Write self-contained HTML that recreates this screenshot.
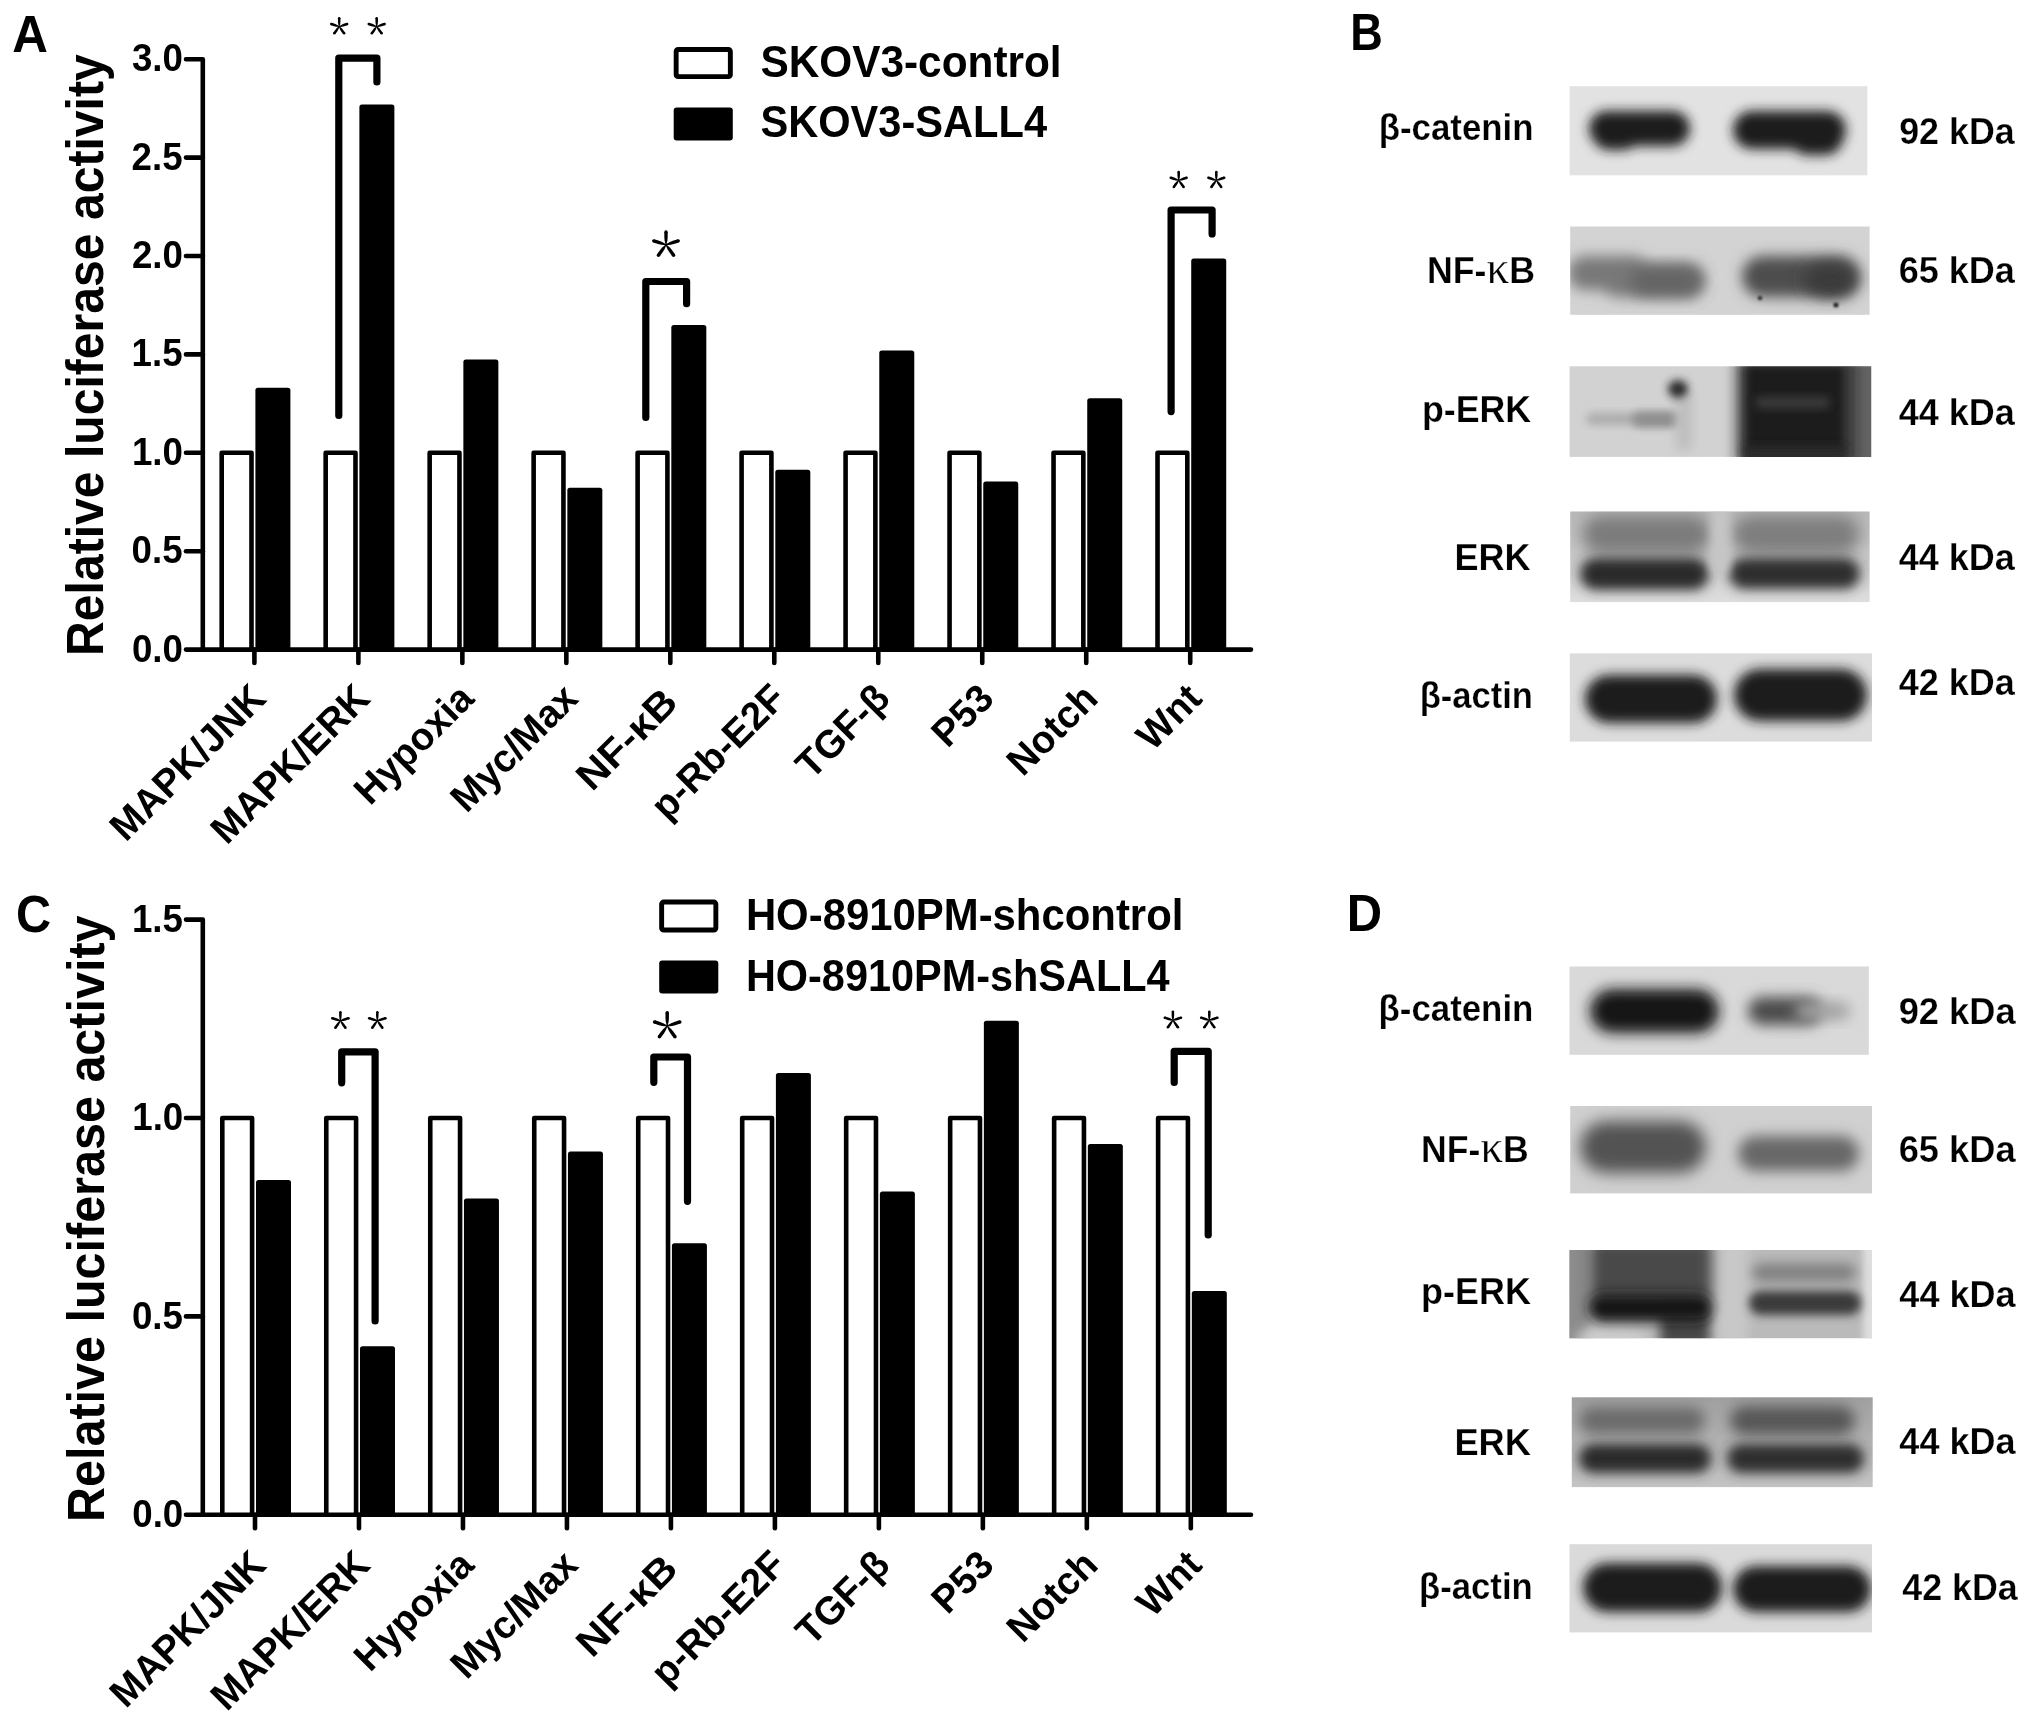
<!DOCTYPE html>
<html><head><meta charset="utf-8"><style>
html,body{margin:0;padding:0;background:#fff;}
body{width:2031px;height:1723px;position:relative;overflow:hidden;}
svg{filter:grayscale(1);}
</style></head><body>
<svg width="2031" height="1723" viewBox="0 0 2031 1723" style="position:absolute;left:0;top:0">
<defs><filter id="bl" x="-30%" y="-60%" width="160%" height="220%"><feGaussianBlur stdDeviation="5"/></filter><filter id="bl2" x="-30%" y="-60%" width="160%" height="220%"><feGaussianBlur stdDeviation="7"/></filter></defs>
<path d="M186,59.20 H202.80 V649.60 H1251" fill="none" stroke="#000" stroke-width="4.6" stroke-linejoin="round" stroke-linecap="round"/>
<line x1="186" y1="649.60" x2="202.80" y2="649.60" stroke="#000" stroke-width="4.6" stroke-linecap="round"/>
<line x1="186" y1="551.20" x2="202.80" y2="551.20" stroke="#000" stroke-width="4.6" stroke-linecap="round"/>
<line x1="186" y1="452.80" x2="202.80" y2="452.80" stroke="#000" stroke-width="4.6" stroke-linecap="round"/>
<line x1="186" y1="354.40" x2="202.80" y2="354.40" stroke="#000" stroke-width="4.6" stroke-linecap="round"/>
<line x1="186" y1="256.00" x2="202.80" y2="256.00" stroke="#000" stroke-width="4.6" stroke-linecap="round"/>
<line x1="186" y1="157.60" x2="202.80" y2="157.60" stroke="#000" stroke-width="4.6" stroke-linecap="round"/>
<line x1="254.40" y1="649.60" x2="254.40" y2="663.00" stroke="#000" stroke-width="4.6" stroke-linecap="round"/>
<line x1="358.38" y1="649.60" x2="358.38" y2="663.00" stroke="#000" stroke-width="4.6" stroke-linecap="round"/>
<line x1="462.36" y1="649.60" x2="462.36" y2="663.00" stroke="#000" stroke-width="4.6" stroke-linecap="round"/>
<line x1="566.34" y1="649.60" x2="566.34" y2="663.00" stroke="#000" stroke-width="4.6" stroke-linecap="round"/>
<line x1="670.32" y1="649.60" x2="670.32" y2="663.00" stroke="#000" stroke-width="4.6" stroke-linecap="round"/>
<line x1="774.30" y1="649.60" x2="774.30" y2="663.00" stroke="#000" stroke-width="4.6" stroke-linecap="round"/>
<line x1="878.28" y1="649.60" x2="878.28" y2="663.00" stroke="#000" stroke-width="4.6" stroke-linecap="round"/>
<line x1="982.26" y1="649.60" x2="982.26" y2="663.00" stroke="#000" stroke-width="4.6" stroke-linecap="round"/>
<line x1="1086.24" y1="649.60" x2="1086.24" y2="663.00" stroke="#000" stroke-width="4.6" stroke-linecap="round"/>
<line x1="1190.22" y1="649.60" x2="1190.22" y2="663.00" stroke="#000" stroke-width="4.6" stroke-linecap="round"/>
<rect x="221.70" y="452.80" width="29.80" height="196.80" fill="#fff" stroke="#000" stroke-width="4.6" stroke-linejoin="round"/>
<rect x="255.40" y="387.70" width="35.00" height="262.90" rx="2.5" fill="#000"/>
<rect x="325.68" y="452.80" width="29.80" height="196.80" fill="#fff" stroke="#000" stroke-width="4.6" stroke-linejoin="round"/>
<rect x="359.38" y="104.40" width="35.00" height="546.20" rx="2.5" fill="#000"/>
<rect x="429.66" y="452.80" width="29.80" height="196.80" fill="#fff" stroke="#000" stroke-width="4.6" stroke-linejoin="round"/>
<rect x="463.36" y="359.50" width="35.00" height="291.10" rx="2.5" fill="#000"/>
<rect x="533.64" y="452.80" width="29.80" height="196.80" fill="#fff" stroke="#000" stroke-width="4.6" stroke-linejoin="round"/>
<rect x="567.34" y="487.80" width="35.00" height="162.80" rx="2.5" fill="#000"/>
<rect x="637.62" y="452.80" width="29.80" height="196.80" fill="#fff" stroke="#000" stroke-width="4.6" stroke-linejoin="round"/>
<rect x="671.32" y="325.10" width="35.00" height="325.50" rx="2.5" fill="#000"/>
<rect x="741.60" y="452.80" width="29.80" height="196.80" fill="#fff" stroke="#000" stroke-width="4.6" stroke-linejoin="round"/>
<rect x="775.30" y="469.70" width="35.00" height="180.90" rx="2.5" fill="#000"/>
<rect x="845.58" y="452.80" width="29.80" height="196.80" fill="#fff" stroke="#000" stroke-width="4.6" stroke-linejoin="round"/>
<rect x="879.28" y="350.50" width="35.00" height="300.10" rx="2.5" fill="#000"/>
<rect x="949.56" y="452.80" width="29.80" height="196.80" fill="#fff" stroke="#000" stroke-width="4.6" stroke-linejoin="round"/>
<rect x="983.26" y="481.40" width="35.00" height="169.20" rx="2.5" fill="#000"/>
<rect x="1053.54" y="452.80" width="29.80" height="196.80" fill="#fff" stroke="#000" stroke-width="4.6" stroke-linejoin="round"/>
<rect x="1087.24" y="398.20" width="35.00" height="252.40" rx="2.5" fill="#000"/>
<rect x="1157.52" y="452.80" width="29.80" height="196.80" fill="#fff" stroke="#000" stroke-width="4.6" stroke-linejoin="round"/>
<rect x="1191.22" y="258.40" width="35.00" height="392.20" rx="2.5" fill="#000"/>
<path d="M338.80,415.50 V58.10 H376.90 V82.00" fill="none" stroke="#000" stroke-width="7.2" stroke-linejoin="round" stroke-linecap="round"/>
<path d="M645.80,417.50 V281.50 H686.60 V303.70" fill="none" stroke="#000" stroke-width="7.2" stroke-linejoin="round" stroke-linecap="round"/>
<path d="M1171.10,411.60 V210.00 H1212.10 V233.90" fill="none" stroke="#000" stroke-width="7.2" stroke-linejoin="round" stroke-linecap="round"/>
<g fill="#000"><path d="M339.65,26.60 L340.26,23.68 L340.45,21.59 L340.45,18.25 L337.95,18.25 L337.95,21.59 L338.14,23.68 L338.75,26.60 Z"/><circle cx="339.20" cy="18.25" r="1.25"/><path d="M339.34,27.03 L342.31,26.71 L344.35,26.24 L347.53,25.21 L346.76,22.83 L343.58,23.86 L341.65,24.69 L339.06,26.17 Z"/><circle cx="347.14" cy="24.02" r="1.25"/><path d="M339.34,26.17 L336.75,24.69 L334.82,23.86 L331.64,22.83 L330.87,25.21 L334.05,26.24 L336.09,26.71 L339.06,27.03 Z"/><circle cx="331.26" cy="24.02" r="1.25"/><path d="M338.84,26.86 L340.06,29.59 L341.13,31.39 L343.10,34.09 L345.12,32.62 L343.16,29.92 L341.78,28.34 L339.56,26.34 Z"/><circle cx="344.11" cy="33.36" r="1.25"/><path d="M338.84,26.34 L336.62,28.34 L335.24,29.92 L333.28,32.62 L335.30,34.09 L337.27,31.39 L338.34,29.59 L339.56,26.86 Z"/><circle cx="334.29" cy="33.36" r="1.25"/></g>
<g fill="#000"><path d="M377.15,26.60 L377.76,23.68 L377.95,21.59 L377.95,18.25 L375.45,18.25 L375.45,21.59 L375.64,23.68 L376.25,26.60 Z"/><circle cx="376.70" cy="18.25" r="1.25"/><path d="M376.84,27.03 L379.81,26.71 L381.85,26.24 L385.03,25.21 L384.26,22.83 L381.08,23.86 L379.15,24.69 L376.56,26.17 Z"/><circle cx="384.64" cy="24.02" r="1.25"/><path d="M376.84,26.17 L374.25,24.69 L372.32,23.86 L369.14,22.83 L368.37,25.21 L371.55,26.24 L373.59,26.71 L376.56,27.03 Z"/><circle cx="368.76" cy="24.02" r="1.25"/><path d="M376.34,26.86 L377.56,29.59 L378.63,31.39 L380.60,34.09 L382.62,32.62 L380.66,29.92 L379.28,28.34 L377.06,26.34 Z"/><circle cx="381.61" cy="33.36" r="1.25"/><path d="M376.34,26.34 L374.12,28.34 L372.74,29.92 L370.78,32.62 L372.80,34.09 L374.77,31.39 L375.84,29.59 L377.06,26.86 Z"/><circle cx="371.79" cy="33.36" r="1.25"/></g>
<g fill="#000"><path d="M666.45,244.80 L667.43,240.28 L667.68,237.05 L667.68,231.88 L664.32,231.88 L664.32,237.05 L664.57,240.28 L665.55,244.80 Z"/><circle cx="666.00" cy="231.88" r="1.68"/><path d="M666.14,245.23 L670.74,244.76 L673.89,244.00 L678.81,242.40 L677.77,239.21 L672.85,240.81 L669.86,242.05 L665.86,244.37 Z"/><circle cx="678.29" cy="240.81" r="1.68"/><path d="M666.14,244.37 L662.14,242.05 L659.15,240.81 L654.23,239.21 L653.19,242.40 L658.11,244.00 L661.26,244.76 L665.86,245.23 Z"/><circle cx="653.71" cy="240.81" r="1.68"/><path d="M665.64,245.06 L667.50,249.30 L669.20,252.06 L672.24,256.24 L674.95,254.27 L671.92,250.09 L669.81,247.62 L666.36,244.54 Z"/><circle cx="673.59" cy="255.25" r="1.68"/><path d="M665.64,244.54 L662.19,247.62 L660.08,250.09 L657.05,254.27 L659.76,256.24 L662.80,252.06 L664.50,249.30 L666.36,245.06 Z"/><circle cx="658.41" cy="255.25" r="1.68"/></g>
<g fill="#000"><path d="M1179.15,180.30 L1179.76,177.38 L1179.95,175.29 L1179.95,171.95 L1177.45,171.95 L1177.45,175.29 L1177.64,177.38 L1178.25,180.30 Z"/><circle cx="1178.70" cy="171.95" r="1.25"/><path d="M1178.84,180.73 L1181.81,180.41 L1183.85,179.94 L1187.03,178.91 L1186.26,176.53 L1183.08,177.56 L1181.15,178.39 L1178.56,179.87 Z"/><circle cx="1186.64" cy="177.72" r="1.25"/><path d="M1178.84,179.87 L1176.25,178.39 L1174.32,177.56 L1171.14,176.53 L1170.37,178.91 L1173.55,179.94 L1175.59,180.41 L1178.56,180.73 Z"/><circle cx="1170.76" cy="177.72" r="1.25"/><path d="M1178.34,180.56 L1179.56,183.29 L1180.63,185.09 L1182.60,187.79 L1184.62,186.32 L1182.66,183.62 L1181.28,182.04 L1179.06,180.04 Z"/><circle cx="1183.61" cy="187.06" r="1.25"/><path d="M1178.34,180.04 L1176.12,182.04 L1174.74,183.62 L1172.78,186.32 L1174.80,187.79 L1176.77,185.09 L1177.84,183.29 L1179.06,180.56 Z"/><circle cx="1173.79" cy="187.06" r="1.25"/></g>
<g fill="#000"><path d="M1216.75,180.30 L1217.36,177.38 L1217.55,175.29 L1217.55,171.95 L1215.05,171.95 L1215.05,175.29 L1215.24,177.38 L1215.85,180.30 Z"/><circle cx="1216.30" cy="171.95" r="1.25"/><path d="M1216.44,180.73 L1219.41,180.41 L1221.45,179.94 L1224.63,178.91 L1223.86,176.53 L1220.68,177.56 L1218.75,178.39 L1216.16,179.87 Z"/><circle cx="1224.24" cy="177.72" r="1.25"/><path d="M1216.44,179.87 L1213.85,178.39 L1211.92,177.56 L1208.74,176.53 L1207.97,178.91 L1211.15,179.94 L1213.19,180.41 L1216.16,180.73 Z"/><circle cx="1208.36" cy="177.72" r="1.25"/><path d="M1215.94,180.56 L1217.16,183.29 L1218.23,185.09 L1220.20,187.79 L1222.22,186.32 L1220.26,183.62 L1218.88,182.04 L1216.66,180.04 Z"/><circle cx="1221.21" cy="187.06" r="1.25"/><path d="M1215.94,180.04 L1213.72,182.04 L1212.34,183.62 L1210.38,186.32 L1212.40,187.79 L1214.37,185.09 L1215.44,183.29 L1216.66,180.56 Z"/><circle cx="1211.39" cy="187.06" r="1.25"/></g>
<path d="M186,919.60 H202.80 V1514.80 H1251" fill="none" stroke="#000" stroke-width="4.6" stroke-linejoin="round" stroke-linecap="round"/>
<line x1="186" y1="1514.80" x2="202.80" y2="1514.80" stroke="#000" stroke-width="4.6" stroke-linecap="round"/>
<line x1="186" y1="1316.40" x2="202.80" y2="1316.40" stroke="#000" stroke-width="4.6" stroke-linecap="round"/>
<line x1="186" y1="1118.00" x2="202.80" y2="1118.00" stroke="#000" stroke-width="4.6" stroke-linecap="round"/>
<line x1="255.00" y1="1514.80" x2="255.00" y2="1528.20" stroke="#000" stroke-width="4.6" stroke-linecap="round"/>
<line x1="358.98" y1="1514.80" x2="358.98" y2="1528.20" stroke="#000" stroke-width="4.6" stroke-linecap="round"/>
<line x1="462.96" y1="1514.80" x2="462.96" y2="1528.20" stroke="#000" stroke-width="4.6" stroke-linecap="round"/>
<line x1="566.94" y1="1514.80" x2="566.94" y2="1528.20" stroke="#000" stroke-width="4.6" stroke-linecap="round"/>
<line x1="670.92" y1="1514.80" x2="670.92" y2="1528.20" stroke="#000" stroke-width="4.6" stroke-linecap="round"/>
<line x1="774.90" y1="1514.80" x2="774.90" y2="1528.20" stroke="#000" stroke-width="4.6" stroke-linecap="round"/>
<line x1="878.88" y1="1514.80" x2="878.88" y2="1528.20" stroke="#000" stroke-width="4.6" stroke-linecap="round"/>
<line x1="982.86" y1="1514.80" x2="982.86" y2="1528.20" stroke="#000" stroke-width="4.6" stroke-linecap="round"/>
<line x1="1086.84" y1="1514.80" x2="1086.84" y2="1528.20" stroke="#000" stroke-width="4.6" stroke-linecap="round"/>
<line x1="1190.82" y1="1514.80" x2="1190.82" y2="1528.20" stroke="#000" stroke-width="4.6" stroke-linecap="round"/>
<rect x="222.30" y="1118.00" width="29.80" height="396.80" fill="#fff" stroke="#000" stroke-width="4.6" stroke-linejoin="round"/>
<rect x="256.00" y="1180.00" width="35.00" height="335.80" rx="2.5" fill="#000"/>
<rect x="326.28" y="1118.00" width="29.80" height="396.80" fill="#fff" stroke="#000" stroke-width="4.6" stroke-linejoin="round"/>
<rect x="359.98" y="1346.20" width="35.00" height="169.60" rx="2.5" fill="#000"/>
<rect x="430.26" y="1118.00" width="29.80" height="396.80" fill="#fff" stroke="#000" stroke-width="4.6" stroke-linejoin="round"/>
<rect x="463.96" y="1198.40" width="35.00" height="317.40" rx="2.5" fill="#000"/>
<rect x="534.24" y="1118.00" width="29.80" height="396.80" fill="#fff" stroke="#000" stroke-width="4.6" stroke-linejoin="round"/>
<rect x="567.94" y="1151.60" width="35.00" height="364.20" rx="2.5" fill="#000"/>
<rect x="638.22" y="1118.00" width="29.80" height="396.80" fill="#fff" stroke="#000" stroke-width="4.6" stroke-linejoin="round"/>
<rect x="671.92" y="1243.20" width="35.00" height="272.60" rx="2.5" fill="#000"/>
<rect x="742.20" y="1118.00" width="29.80" height="396.80" fill="#fff" stroke="#000" stroke-width="4.6" stroke-linejoin="round"/>
<rect x="775.90" y="1073.10" width="35.00" height="442.70" rx="2.5" fill="#000"/>
<rect x="846.18" y="1118.00" width="29.80" height="396.80" fill="#fff" stroke="#000" stroke-width="4.6" stroke-linejoin="round"/>
<rect x="879.88" y="1191.60" width="35.00" height="324.20" rx="2.5" fill="#000"/>
<rect x="950.16" y="1118.00" width="29.80" height="396.80" fill="#fff" stroke="#000" stroke-width="4.6" stroke-linejoin="round"/>
<rect x="983.86" y="1020.70" width="35.00" height="495.10" rx="2.5" fill="#000"/>
<rect x="1054.14" y="1118.00" width="29.80" height="396.80" fill="#fff" stroke="#000" stroke-width="4.6" stroke-linejoin="round"/>
<rect x="1087.84" y="1143.90" width="35.00" height="371.90" rx="2.5" fill="#000"/>
<rect x="1158.12" y="1118.00" width="29.80" height="396.80" fill="#fff" stroke="#000" stroke-width="4.6" stroke-linejoin="round"/>
<rect x="1191.82" y="1291.00" width="35.00" height="224.80" rx="2.5" fill="#000"/>
<path d="M341.70,1082.80 V1051.80 H375.10 V1321.00" fill="none" stroke="#000" stroke-width="7.2" stroke-linejoin="round" stroke-linecap="round"/>
<path d="M653.80,1082.30 V1057.00 H687.50 V1201.30" fill="none" stroke="#000" stroke-width="7.2" stroke-linejoin="round" stroke-linecap="round"/>
<path d="M1174.20,1082.50 V1051.30 H1208.20 V1235.00" fill="none" stroke="#000" stroke-width="7.2" stroke-linejoin="round" stroke-linecap="round"/>
<g fill="#000"><path d="M340.85,1020.80 L341.46,1017.81 L341.65,1015.67 L341.65,1012.25 L339.15,1012.25 L339.15,1015.67 L339.34,1017.81 L339.95,1020.80 Z"/><circle cx="340.40" cy="1012.25" r="1.25"/><path d="M340.54,1021.23 L343.57,1020.89 L345.67,1020.40 L348.92,1019.35 L348.15,1016.97 L344.89,1018.03 L342.92,1018.86 L340.26,1020.37 Z"/><circle cx="348.53" cy="1018.16" r="1.25"/><path d="M340.54,1020.37 L337.88,1018.86 L335.91,1018.03 L332.65,1016.97 L331.88,1019.35 L335.13,1020.40 L337.23,1020.89 L340.26,1021.23 Z"/><circle cx="332.27" cy="1018.16" r="1.25"/><path d="M340.04,1021.06 L341.30,1023.85 L342.40,1025.68 L344.41,1028.45 L346.44,1026.98 L344.43,1024.22 L343.02,1022.60 L340.76,1020.54 Z"/><circle cx="345.43" cy="1027.72" r="1.25"/><path d="M340.04,1020.54 L337.78,1022.60 L336.37,1024.22 L334.36,1026.98 L336.39,1028.45 L338.40,1025.68 L339.50,1023.85 L340.76,1021.06 Z"/><circle cx="335.37" cy="1027.72" r="1.25"/></g>
<g fill="#000"><path d="M377.75,1020.80 L378.36,1017.81 L378.55,1015.67 L378.55,1012.25 L376.05,1012.25 L376.05,1015.67 L376.24,1017.81 L376.85,1020.80 Z"/><circle cx="377.30" cy="1012.25" r="1.25"/><path d="M377.44,1021.23 L380.47,1020.89 L382.57,1020.40 L385.82,1019.35 L385.05,1016.97 L381.79,1018.03 L379.82,1018.86 L377.16,1020.37 Z"/><circle cx="385.43" cy="1018.16" r="1.25"/><path d="M377.44,1020.37 L374.78,1018.86 L372.81,1018.03 L369.55,1016.97 L368.78,1019.35 L372.03,1020.40 L374.13,1020.89 L377.16,1021.23 Z"/><circle cx="369.17" cy="1018.16" r="1.25"/><path d="M376.94,1021.06 L378.20,1023.85 L379.30,1025.68 L381.31,1028.45 L383.34,1026.98 L381.33,1024.22 L379.92,1022.60 L377.66,1020.54 Z"/><circle cx="382.33" cy="1027.72" r="1.25"/><path d="M376.94,1020.54 L374.68,1022.60 L373.27,1024.22 L371.26,1026.98 L373.29,1028.45 L375.30,1025.68 L376.40,1023.85 L377.66,1021.06 Z"/><circle cx="372.27" cy="1027.72" r="1.25"/></g>
<g fill="#000"><path d="M667.65,1026.00 L668.67,1021.35 L668.93,1018.03 L668.93,1012.73 L665.48,1012.73 L665.48,1018.03 L665.73,1021.35 L666.75,1026.00 Z"/><circle cx="667.20" cy="1012.73" r="1.73"/><path d="M667.34,1026.43 L672.07,1025.96 L675.31,1025.18 L680.36,1023.54 L679.29,1020.26 L674.24,1021.90 L671.17,1023.17 L667.06,1025.57 Z"/><circle cx="679.83" cy="1021.90" r="1.73"/><path d="M667.34,1025.57 L663.23,1023.17 L660.16,1021.90 L655.11,1020.26 L654.04,1023.54 L659.09,1025.18 L662.33,1025.96 L667.06,1026.43 Z"/><circle cx="654.57" cy="1021.90" r="1.73"/><path d="M666.84,1026.26 L668.74,1030.62 L670.49,1033.46 L673.61,1037.75 L676.40,1035.73 L673.28,1031.43 L671.12,1028.90 L667.56,1025.74 Z"/><circle cx="675.00" cy="1036.74" r="1.73"/><path d="M666.84,1025.74 L663.28,1028.90 L661.12,1031.43 L658.00,1035.73 L660.79,1037.75 L663.91,1033.46 L665.66,1030.62 L667.56,1026.26 Z"/><circle cx="659.40" cy="1036.74" r="1.73"/></g>
<g fill="#000"><path d="M1173.35,1020.30 L1173.96,1017.31 L1174.15,1015.17 L1174.15,1011.75 L1171.65,1011.75 L1171.65,1015.17 L1171.84,1017.31 L1172.45,1020.30 Z"/><circle cx="1172.90" cy="1011.75" r="1.25"/><path d="M1173.04,1020.73 L1176.07,1020.39 L1178.17,1019.90 L1181.42,1018.85 L1180.65,1016.47 L1177.39,1017.53 L1175.42,1018.36 L1172.76,1019.87 Z"/><circle cx="1181.03" cy="1017.66" r="1.25"/><path d="M1173.04,1019.87 L1170.38,1018.36 L1168.41,1017.53 L1165.15,1016.47 L1164.38,1018.85 L1167.63,1019.90 L1169.73,1020.39 L1172.76,1020.73 Z"/><circle cx="1164.77" cy="1017.66" r="1.25"/><path d="M1172.54,1020.56 L1173.80,1023.35 L1174.90,1025.18 L1176.91,1027.95 L1178.94,1026.48 L1176.93,1023.72 L1175.52,1022.10 L1173.26,1020.04 Z"/><circle cx="1177.93" cy="1027.22" r="1.25"/><path d="M1172.54,1020.04 L1170.28,1022.10 L1168.87,1023.72 L1166.86,1026.48 L1168.89,1027.95 L1170.90,1025.18 L1172.00,1023.35 L1173.26,1020.56 Z"/><circle cx="1167.87" cy="1027.22" r="1.25"/></g>
<g fill="#000"><path d="M1209.75,1020.30 L1210.36,1017.31 L1210.55,1015.17 L1210.55,1011.75 L1208.05,1011.75 L1208.05,1015.17 L1208.24,1017.31 L1208.85,1020.30 Z"/><circle cx="1209.30" cy="1011.75" r="1.25"/><path d="M1209.44,1020.73 L1212.47,1020.39 L1214.57,1019.90 L1217.82,1018.85 L1217.05,1016.47 L1213.79,1017.53 L1211.82,1018.36 L1209.16,1019.87 Z"/><circle cx="1217.43" cy="1017.66" r="1.25"/><path d="M1209.44,1019.87 L1206.78,1018.36 L1204.81,1017.53 L1201.55,1016.47 L1200.78,1018.85 L1204.03,1019.90 L1206.13,1020.39 L1209.16,1020.73 Z"/><circle cx="1201.17" cy="1017.66" r="1.25"/><path d="M1208.94,1020.56 L1210.20,1023.35 L1211.30,1025.18 L1213.31,1027.95 L1215.34,1026.48 L1213.33,1023.72 L1211.92,1022.10 L1209.66,1020.04 Z"/><circle cx="1214.33" cy="1027.22" r="1.25"/><path d="M1208.94,1020.04 L1206.68,1022.10 L1205.27,1023.72 L1203.26,1026.48 L1205.29,1027.95 L1207.30,1025.18 L1208.40,1023.35 L1209.66,1020.56 Z"/><circle cx="1204.27" cy="1027.22" r="1.25"/></g>
<text x="182.97" y="661.60" font-family='"Liberation Sans", sans-serif' font-weight="bold" font-size="38.90" text-anchor="end" textLength="50.99" lengthAdjust="spacingAndGlyphs">0.0</text>
<text x="182.61" y="563.20" font-family='"Liberation Sans", sans-serif' font-weight="bold" font-size="38.90" text-anchor="end" textLength="50.99" lengthAdjust="spacingAndGlyphs">0.5</text>
<text x="182.97" y="464.80" font-family='"Liberation Sans", sans-serif' font-weight="bold" font-size="38.90" text-anchor="end" textLength="50.99" lengthAdjust="spacingAndGlyphs">1.0</text>
<text x="182.61" y="366.40" font-family='"Liberation Sans", sans-serif' font-weight="bold" font-size="38.90" text-anchor="end" textLength="50.99" lengthAdjust="spacingAndGlyphs">1.5</text>
<text x="182.97" y="268.00" font-family='"Liberation Sans", sans-serif' font-weight="bold" font-size="38.90" text-anchor="end" textLength="50.99" lengthAdjust="spacingAndGlyphs">2.0</text>
<text x="182.61" y="169.60" font-family='"Liberation Sans", sans-serif' font-weight="bold" font-size="38.90" text-anchor="end" textLength="50.99" lengthAdjust="spacingAndGlyphs">2.5</text>
<text x="182.97" y="71.20" font-family='"Liberation Sans", sans-serif' font-weight="bold" font-size="38.90" text-anchor="end" textLength="50.99" lengthAdjust="spacingAndGlyphs">3.0</text>
<text x="183.27" y="1526.90" font-family='"Liberation Sans", sans-serif' font-weight="bold" font-size="38.90" text-anchor="end" textLength="50.99" lengthAdjust="spacingAndGlyphs">0.0</text>
<text x="182.91" y="1328.50" font-family='"Liberation Sans", sans-serif' font-weight="bold" font-size="38.90" text-anchor="end" textLength="50.99" lengthAdjust="spacingAndGlyphs">0.5</text>
<text x="183.27" y="1130.10" font-family='"Liberation Sans", sans-serif' font-weight="bold" font-size="38.90" text-anchor="end" textLength="50.99" lengthAdjust="spacingAndGlyphs">1.0</text>
<text x="182.91" y="931.70" font-family='"Liberation Sans", sans-serif' font-weight="bold" font-size="38.90" text-anchor="end" textLength="50.99" lengthAdjust="spacingAndGlyphs">1.5</text>
<text transform="translate(102.50,655.93) rotate(-90)" font-family='"Liberation Sans", sans-serif' font-weight="bold" font-size="50.90" textLength="601.66" lengthAdjust="spacingAndGlyphs">Relative luciferase activity</text>
<text transform="translate(104.00,1522.05) rotate(-90)" font-family='"Liberation Sans", sans-serif' font-weight="bold" font-size="51.50" textLength="606.59" lengthAdjust="spacingAndGlyphs">Relative luciferase activity</text>
<text x="12.16" y="51.80" font-family='"Liberation Sans", sans-serif' font-weight="bold" font-size="52.20" text-anchor="start" textLength="35.68" lengthAdjust="spacingAndGlyphs">A</text>
<text x="1350.27" y="50.10" font-family='"Liberation Sans", sans-serif' font-weight="bold" font-size="51.70" text-anchor="start" textLength="32.56" lengthAdjust="spacingAndGlyphs">B</text>
<text x="15.95" y="932.40" font-family='"Liberation Sans", sans-serif' font-weight="bold" font-size="51.70" text-anchor="start" textLength="35.17" lengthAdjust="spacingAndGlyphs">C</text>
<text x="1346.82" y="931.00" font-family='"Liberation Sans", sans-serif' font-weight="bold" font-size="51.60" text-anchor="start" textLength="35.35" lengthAdjust="spacingAndGlyphs">D</text>
<text transform="translate(268.00,700.50) rotate(-45)" font-family='"Liberation Sans", sans-serif' font-weight="bold" font-size="39.00" text-anchor="end" textLength="201.04" lengthAdjust="spacingAndGlyphs">MAPK/JNK</text>
<text transform="translate(371.98,700.50) rotate(-45)" font-family='"Liberation Sans", sans-serif' font-weight="bold" font-size="39.00" text-anchor="end" textLength="205.30" lengthAdjust="spacingAndGlyphs">MAPK/ERK</text>
<text transform="translate(475.96,700.50) rotate(-45)" font-family='"Liberation Sans", sans-serif' font-weight="bold" font-size="39.00" text-anchor="end" textLength="149.74" lengthAdjust="spacingAndGlyphs">Hypoxia</text>
<text transform="translate(579.94,700.50) rotate(-45)" font-family='"Liberation Sans", sans-serif' font-weight="bold" font-size="39.00" text-anchor="end" textLength="160.46" lengthAdjust="spacingAndGlyphs">Myc/Max</text>
<text transform="translate(679.92,704.50) rotate(-45)" font-family='"Liberation Sans", sans-serif' font-weight="bold" font-size="39.00" text-anchor="end" textLength="124.39" lengthAdjust="spacingAndGlyphs">NF-&#954;B</text>
<text transform="translate(787.90,700.50) rotate(-45)" font-family='"Liberation Sans", sans-serif' font-weight="bold" font-size="39.00" text-anchor="end" textLength="171.06" lengthAdjust="spacingAndGlyphs">p-Rb-E2F</text>
<text transform="translate(891.88,700.50) rotate(-45)" font-family='"Liberation Sans", sans-serif' font-weight="bold" font-size="39.00" text-anchor="end" textLength="113.28" lengthAdjust="spacingAndGlyphs">TGF-&#946;</text>
<text transform="translate(995.86,700.50) rotate(-45)" font-family='"Liberation Sans", sans-serif' font-weight="bold" font-size="39.00" text-anchor="end" textLength="68.49" lengthAdjust="spacingAndGlyphs">P53</text>
<text transform="translate(1099.84,700.50) rotate(-45)" font-family='"Liberation Sans", sans-serif' font-weight="bold" font-size="39.00" text-anchor="end" textLength="109.05" lengthAdjust="spacingAndGlyphs">Notch</text>
<text transform="translate(1203.82,700.50) rotate(-45)" font-family='"Liberation Sans", sans-serif' font-weight="bold" font-size="39.00" text-anchor="end" textLength="72.66" lengthAdjust="spacingAndGlyphs">Wnt</text>
<text transform="translate(268.00,1567.00) rotate(-45)" font-family='"Liberation Sans", sans-serif' font-weight="bold" font-size="39.00" text-anchor="end" textLength="201.04" lengthAdjust="spacingAndGlyphs">MAPK/JNK</text>
<text transform="translate(371.98,1567.00) rotate(-45)" font-family='"Liberation Sans", sans-serif' font-weight="bold" font-size="39.00" text-anchor="end" textLength="205.30" lengthAdjust="spacingAndGlyphs">MAPK/ERK</text>
<text transform="translate(475.96,1567.00) rotate(-45)" font-family='"Liberation Sans", sans-serif' font-weight="bold" font-size="39.00" text-anchor="end" textLength="149.74" lengthAdjust="spacingAndGlyphs">Hypoxia</text>
<text transform="translate(579.94,1567.00) rotate(-45)" font-family='"Liberation Sans", sans-serif' font-weight="bold" font-size="39.00" text-anchor="end" textLength="160.46" lengthAdjust="spacingAndGlyphs">Myc/Max</text>
<text transform="translate(679.92,1571.00) rotate(-45)" font-family='"Liberation Sans", sans-serif' font-weight="bold" font-size="39.00" text-anchor="end" textLength="124.39" lengthAdjust="spacingAndGlyphs">NF-&#954;B</text>
<text transform="translate(787.90,1567.00) rotate(-45)" font-family='"Liberation Sans", sans-serif' font-weight="bold" font-size="39.00" text-anchor="end" textLength="171.06" lengthAdjust="spacingAndGlyphs">p-Rb-E2F</text>
<text transform="translate(891.88,1567.00) rotate(-45)" font-family='"Liberation Sans", sans-serif' font-weight="bold" font-size="39.00" text-anchor="end" textLength="113.28" lengthAdjust="spacingAndGlyphs">TGF-&#946;</text>
<text transform="translate(995.86,1567.00) rotate(-45)" font-family='"Liberation Sans", sans-serif' font-weight="bold" font-size="39.00" text-anchor="end" textLength="68.49" lengthAdjust="spacingAndGlyphs">P53</text>
<text transform="translate(1099.84,1567.00) rotate(-45)" font-family='"Liberation Sans", sans-serif' font-weight="bold" font-size="39.00" text-anchor="end" textLength="109.05" lengthAdjust="spacingAndGlyphs">Notch</text>
<text transform="translate(1203.82,1567.00) rotate(-45)" font-family='"Liberation Sans", sans-serif' font-weight="bold" font-size="39.00" text-anchor="end" textLength="72.66" lengthAdjust="spacingAndGlyphs">Wnt</text>
<rect x="676.15" y="49.45" width="54.20" height="27.20" fill="#fff" stroke="#000" stroke-width="4.9" rx="2"/>
<rect x="673.70" y="107.40" width="59.10" height="33.10" fill="#000" rx="3"/>
<text x="760.43" y="76.60" font-family='"Liberation Sans", sans-serif' font-weight="bold" font-size="44.50" text-anchor="start" textLength="301.21" lengthAdjust="spacingAndGlyphs">SKOV3-control</text>
<text x="760.45" y="136.70" font-family='"Liberation Sans", sans-serif' font-weight="bold" font-size="44.50" text-anchor="start" textLength="286.66" lengthAdjust="spacingAndGlyphs">SKOV3-SALL4</text>
<rect x="661.65" y="902.05" width="54.20" height="28.00" fill="#fff" stroke="#000" stroke-width="4.9" rx="2"/>
<rect x="659.20" y="960.50" width="59.10" height="32.90" fill="#000" rx="3"/>
<text x="745.88" y="930.10" font-family='"Liberation Sans", sans-serif' font-weight="bold" font-size="43.90" text-anchor="start" textLength="437.51" lengthAdjust="spacingAndGlyphs">HO-8910PM-shcontrol</text>
<text x="745.91" y="990.80" font-family='"Liberation Sans", sans-serif' font-weight="bold" font-size="43.90" text-anchor="start" textLength="423.68" lengthAdjust="spacingAndGlyphs">HO-8910PM-shSALL4</text>
<defs><filter id="g1" x="-50%" y="-50%" width="200%" height="200%"><feGaussianBlur stdDeviation="1"/></filter><filter id="g2" x="-50%" y="-50%" width="200%" height="200%"><feGaussianBlur stdDeviation="2"/></filter><filter id="g3" x="-50%" y="-50%" width="200%" height="200%"><feGaussianBlur stdDeviation="3"/></filter><filter id="g4" x="-50%" y="-50%" width="200%" height="200%"><feGaussianBlur stdDeviation="4"/></filter><filter id="g5" x="-50%" y="-50%" width="200%" height="200%"><feGaussianBlur stdDeviation="5"/></filter><filter id="g6" x="-50%" y="-50%" width="200%" height="200%"><feGaussianBlur stdDeviation="6"/></filter><filter id="g7" x="-50%" y="-50%" width="200%" height="200%"><feGaussianBlur stdDeviation="7"/></filter><filter id="g8" x="-50%" y="-50%" width="200%" height="200%"><feGaussianBlur stdDeviation="8"/></filter><filter id="g9" x="-50%" y="-50%" width="200%" height="200%"><feGaussianBlur stdDeviation="9"/></filter><filter id="g10" x="-50%" y="-50%" width="200%" height="200%"><feGaussianBlur stdDeviation="10"/></filter><filter id="g11" x="-50%" y="-50%" width="200%" height="200%"><feGaussianBlur stdDeviation="11"/></filter><filter id="g12" x="-50%" y="-50%" width="200%" height="200%"><feGaussianBlur stdDeviation="12"/></filter><filter id="g13" x="-50%" y="-50%" width="200%" height="200%"><feGaussianBlur stdDeviation="13"/></filter><filter id="g14" x="-50%" y="-50%" width="200%" height="200%"><feGaussianBlur stdDeviation="14"/></filter><filter id="g15" x="-50%" y="-50%" width="200%" height="200%"><feGaussianBlur stdDeviation="15"/></filter></defs>
<defs><linearGradient id="gERK" x1="0" y1="0" x2="0" y2="1"><stop offset="0" stop-color="#b8b8b8"/><stop offset="0.55" stop-color="#c8c8c8"/><stop offset="1" stop-color="#dedede"/></linearGradient><linearGradient id="gERK2" x1="0" y1="0" x2="0" y2="1"><stop offset="0" stop-color="#a0a0a0"/><stop offset="1" stop-color="#c4c4c4"/></linearGradient></defs>
<clipPath id="c1"><rect x="1569.6" y="86.2" width="297.7" height="89.1"/></clipPath>
<rect x="1569.6" y="86.2" width="297.7" height="89.1" fill="#e2e2e2"/>
<g clip-path="url(#c1)">
<g fill="#1e1e1e" filter="url(#g6)">
<rect x="1589.0" y="111.0" width="101.0" height="35.0" rx="17.5"/>
<rect x="1592.0" y="116.0" width="48.0" height="34.0" rx="17.0"/>
</g>
<g fill="#1e1e1e" filter="url(#g6)">
<rect x="1733.0" y="111.0" width="113.0" height="38.0" rx="19.0"/>
<rect x="1790.0" y="120.0" width="53.0" height="35.0" rx="17.5"/>
</g>
</g>
<clipPath id="c2"><rect x="1570.2" y="226.5" width="299.4" height="88.3"/></clipPath>
<rect x="1570.2" y="226.5" width="299.4" height="88.3" fill="#d3d3d3"/>
<g clip-path="url(#c2)">
<g fill="#787878" filter="url(#g7)">
<rect x="1568.0" y="256.0" width="82.0" height="34.0" rx="17.0"/>
<rect x="1600.0" y="263.0" width="104.0" height="34.0" rx="17.0"/>
</g>
<rect x="1630.0" y="268.0" width="72.0" height="27.0" rx="13.5" fill="#646464" filter="url(#g8)"/>
<rect x="1742.0" y="256.0" width="118.0" height="41.0" rx="20.5" fill="#4e4e4e" filter="url(#g7)"/>
<ellipse cx="1830.0" cy="280.0" rx="26.0" ry="17.0" fill="#3a3a3a" filter="url(#g8)"/>
<ellipse cx="1760.0" cy="298.0" rx="2.2" ry="2.2" fill="#333333" filter="url(#g1)"/>
<ellipse cx="1836.0" cy="305.0" rx="2.5" ry="2.5" fill="#222222" filter="url(#g1)"/>
</g>
<clipPath id="c3"><rect x="1569.6" y="366.3" width="301.6" height="90.6"/></clipPath>
<rect x="1569.6" y="366.3" width="301.6" height="90.6" fill="#d2d2d2"/>
<g clip-path="url(#c3)">
<rect x="1846.0" y="360.0" width="39.0" height="105.0" fill="#626262" filter="url(#g4)"/>
<rect x="1586.0" y="413.0" width="92.0" height="12.0" rx="6.0" fill="#acacac" filter="url(#g4)"/>
<rect x="1632.0" y="412.0" width="48.0" height="15.0" rx="7.5" fill="#8e8e8e" filter="url(#g4)"/>
<rect x="1676.0" y="395.0" width="16.0" height="55.0" fill="#bdbdbd" filter="url(#g6)"/>
<ellipse cx="1678.0" cy="389.0" rx="10.0" ry="9.0" fill="#282828" filter="url(#g4)"/>
<rect x="1738.0" y="358.0" width="114.0" height="107.0" fill="#1e1e1e" filter="url(#g7)"/>
<rect x="1755.0" y="397.0" width="75.0" height="11.0" rx="5.5" fill="#3e3e3e" filter="url(#g5)"/>
<rect x="1745.0" y="446.0" width="100.0" height="19.0" fill="#2c2c2c" filter="url(#g5)"/>
</g>
<clipPath id="c4"><rect x="1570.2" y="511.5" width="299.4" height="90.6"/></clipPath>
<rect x="1570.2" y="511.5" width="299.4" height="90.6" fill="url(#gERK)"/>
<g clip-path="url(#c4)">
<rect x="1582.0" y="515.0" width="129.0" height="39.0" rx="19.5" fill="#7c7c7c" filter="url(#g8)"/>
<rect x="1732.0" y="515.0" width="128.0" height="39.0" rx="19.5" fill="#7e7e7e" filter="url(#g8)"/>
<rect x="1580.0" y="558.0" width="129.0" height="32.0" rx="16.0" fill="#2a2a2a" filter="url(#g6)"/>
<rect x="1729.0" y="558.0" width="131.0" height="31.0" rx="15.5" fill="#2e2e2e" filter="url(#g6)"/>
<rect x="1712.0" y="505.0" width="16.0" height="67.0" fill="#c6c6c6" filter="url(#g5)"/>
</g>
<clipPath id="c5"><rect x="1569.8" y="653.4" width="302.2" height="88.2"/></clipPath>
<rect x="1569.8" y="653.4" width="302.2" height="88.2" fill="#dcdcdc"/>
<g clip-path="url(#c5)">
<rect x="1585.0" y="675.0" width="132.0" height="48.0" rx="24.0" fill="#1a1a1a" filter="url(#g6)"/>
<rect x="1734.0" y="669.0" width="133.0" height="52.0" rx="26.0" fill="#1c1c1c" filter="url(#g6)"/>
</g>
<clipPath id="c6"><rect x="1569.5" y="966.5" width="299.3" height="88.3"/></clipPath>
<rect x="1569.5" y="966.5" width="299.3" height="88.3" fill="#d9d9d9"/>
<g clip-path="url(#c6)">
<rect x="1590.0" y="989.0" width="129.0" height="44.0" rx="22.0" fill="#141414" filter="url(#g7)"/>
<rect x="1748.0" y="997.0" width="74.0" height="28.0" rx="14.0" fill="#4c4c4c" filter="url(#g7)"/>
<rect x="1795.0" y="1002.0" width="55.0" height="18.0" rx="9.0" fill="#a2a2a2" filter="url(#g7)"/>
</g>
<clipPath id="c7"><rect x="1570.2" y="1106.0" width="301.8" height="87.4"/></clipPath>
<rect x="1570.2" y="1106.0" width="301.8" height="87.4" fill="#d0d0d0"/>
<g clip-path="url(#c7)">
<rect x="1580.0" y="1121.0" width="126.0" height="52.0" rx="26.0" fill="#525252" filter="url(#g8)"/>
<rect x="1738.0" y="1136.0" width="121.0" height="35.0" rx="17.5" fill="#676767" filter="url(#g7)"/>
</g>
<clipPath id="c8"><rect x="1569.5" y="1250.0" width="302.5" height="88.2"/></clipPath>
<rect x="1569.5" y="1250.0" width="302.5" height="88.2" fill="#bababa"/>
<g clip-path="url(#c8)">
<rect x="1863.0" y="1240.0" width="22.0" height="105.0" fill="#dedede" filter="url(#g3)"/>
<rect x="1708.0" y="1240.0" width="40.0" height="105.0" fill="#c8c8c8" filter="url(#g6)"/>
<rect x="1560.0" y="1240.0" width="30.0" height="105.0" fill="#8c8c8c" filter="url(#g5)"/>
<rect x="1590.0" y="1240.0" width="122.0" height="60.0" fill="#484848" filter="url(#g7)"/>
<rect x="1660.0" y="1312.0" width="50.0" height="36.0" fill="#474747" filter="url(#g6)"/>
<ellipse cx="1612.0" cy="1338.0" rx="36.0" ry="12.0" fill="#cccccc" filter="url(#g6)"/>
<g fill="#161616" filter="url(#g6)">
<rect x="1588.0" y="1293.0" width="125.0" height="29.0" rx="14.5"/>
</g>
<rect x="1752.0" y="1263.0" width="104.0" height="19.0" rx="9.5" fill="#828282" filter="url(#g6)"/>
<rect x="1749.0" y="1291.0" width="112.0" height="24.0" rx="12.0" fill="#3a3a3a" filter="url(#g5)"/>
</g>
<clipPath id="c9"><rect x="1571.8" y="1397.3" width="300.9" height="89.8"/></clipPath>
<rect x="1571.8" y="1397.3" width="300.9" height="89.8" fill="url(#gERK2)"/>
<g clip-path="url(#c9)">
<rect x="1579.0" y="1407.0" width="126.0" height="27.0" rx="13.5" fill="#6a6a6a" filter="url(#g7)"/>
<rect x="1730.0" y="1406.0" width="125.0" height="29.0" rx="14.5" fill="#565656" filter="url(#g7)"/>
<rect x="1579.0" y="1444.0" width="132.0" height="29.0" rx="14.5" fill="#2c2c2c" filter="url(#g6)"/>
<rect x="1727.0" y="1444.0" width="137.0" height="29.0" rx="14.5" fill="#2e2e2e" filter="url(#g6)"/>
</g>
<clipPath id="c10"><rect x="1569.5" y="1544.2" width="302.5" height="88.2"/></clipPath>
<rect x="1569.5" y="1544.2" width="302.5" height="88.2" fill="#dadada"/>
<g clip-path="url(#c10)">
<rect x="1583.0" y="1563.0" width="139.0" height="49.0" rx="24.5" fill="#1a1a1a" filter="url(#g6)"/>
<rect x="1733.0" y="1566.0" width="138.0" height="46.0" rx="23.0" fill="#1c1c1c" filter="url(#g6)"/>
</g>
<text x="1378.76" y="140.20" font-family='"Liberation Sans", sans-serif' font-weight="bold" font-size="36.50" text-anchor="start" textLength="154.70" lengthAdjust="spacingAndGlyphs" stroke="#fff" stroke-width="0.25">&#946;-catenin</text>
<text x="1426.88" y="282.50" font-family='"Liberation Sans", sans-serif' font-weight="bold" font-size="36.50" text-anchor="start" textLength="108.07" lengthAdjust="spacingAndGlyphs" stroke="#fff" stroke-width="0.25">NF-<tspan font-family="Liberation Serif" font-weight="normal" font-size="46">&#954;</tspan>B</text>
<text x="1421.98" y="421.50" font-family='"Liberation Sans", sans-serif' font-weight="bold" font-size="36.50" text-anchor="start" textLength="109.09" lengthAdjust="spacingAndGlyphs" stroke="#fff" stroke-width="0.25">p-ERK</text>
<text x="1454.46" y="569.70" font-family='"Liberation Sans", sans-serif' font-weight="bold" font-size="36.50" text-anchor="start" textLength="76.05" lengthAdjust="spacingAndGlyphs" stroke="#fff" stroke-width="0.25">ERK</text>
<text x="1419.68" y="707.50" font-family='"Liberation Sans", sans-serif' font-weight="bold" font-size="36.50" text-anchor="start" textLength="113.17" lengthAdjust="spacingAndGlyphs" stroke="#fff" stroke-width="0.25">&#946;-actin</text>
<text x="1899.15" y="143.50" font-family='"Liberation Sans", sans-serif' font-weight="bold" font-size="36.50" text-anchor="start" textLength="115.56" lengthAdjust="spacingAndGlyphs" stroke="#fff" stroke-width="0.25">92 kDa</text>
<text x="1898.64" y="282.50" font-family='"Liberation Sans", sans-serif' font-weight="bold" font-size="36.50" text-anchor="start" textLength="116.27" lengthAdjust="spacingAndGlyphs" stroke="#fff" stroke-width="0.25">65 kDa</text>
<text x="1898.76" y="424.80" font-family='"Liberation Sans", sans-serif' font-weight="bold" font-size="36.50" text-anchor="start" textLength="116.15" lengthAdjust="spacingAndGlyphs" stroke="#fff" stroke-width="0.25">44 kDa</text>
<text x="1898.76" y="569.70" font-family='"Liberation Sans", sans-serif' font-weight="bold" font-size="36.50" text-anchor="start" textLength="116.15" lengthAdjust="spacingAndGlyphs" stroke="#fff" stroke-width="0.25">44 kDa</text>
<text x="1898.76" y="694.90" font-family='"Liberation Sans", sans-serif' font-weight="bold" font-size="36.50" text-anchor="start" textLength="116.15" lengthAdjust="spacingAndGlyphs" stroke="#fff" stroke-width="0.25">42 kDa</text>
<text x="1378.56" y="1020.60" font-family='"Liberation Sans", sans-serif' font-weight="bold" font-size="36.50" text-anchor="start" textLength="154.81" lengthAdjust="spacingAndGlyphs" stroke="#fff" stroke-width="0.25">&#946;-catenin</text>
<text x="1421.09" y="1162.20" font-family='"Liberation Sans", sans-serif' font-weight="bold" font-size="36.50" text-anchor="start" textLength="107.65" lengthAdjust="spacingAndGlyphs" stroke="#fff" stroke-width="0.25">NF-<tspan font-family="Liberation Serif" font-weight="normal" font-size="46">&#954;</tspan>B</text>
<text x="1421.06" y="1303.90" font-family='"Liberation Sans", sans-serif' font-weight="bold" font-size="36.50" text-anchor="start" textLength="109.91" lengthAdjust="spacingAndGlyphs" stroke="#fff" stroke-width="0.25">p-ERK</text>
<text x="1454.44" y="1455.40" font-family='"Liberation Sans", sans-serif' font-weight="bold" font-size="36.50" text-anchor="start" textLength="76.57" lengthAdjust="spacingAndGlyphs" stroke="#fff" stroke-width="0.25">ERK</text>
<text x="1419.07" y="1598.50" font-family='"Liberation Sans", sans-serif' font-weight="bold" font-size="36.50" text-anchor="start" textLength="113.69" lengthAdjust="spacingAndGlyphs" stroke="#fff" stroke-width="0.25">&#946;-actin</text>
<text x="1898.63" y="1023.80" font-family='"Liberation Sans", sans-serif' font-weight="bold" font-size="36.50" text-anchor="start" textLength="116.97" lengthAdjust="spacingAndGlyphs" stroke="#fff" stroke-width="0.25">92 kDa</text>
<text x="1898.63" y="1162.00" font-family='"Liberation Sans", sans-serif' font-weight="bold" font-size="36.50" text-anchor="start" textLength="116.97" lengthAdjust="spacingAndGlyphs" stroke="#fff" stroke-width="0.25">65 kDa</text>
<text x="1899.36" y="1306.90" font-family='"Liberation Sans", sans-serif' font-weight="bold" font-size="36.50" text-anchor="start" textLength="116.25" lengthAdjust="spacingAndGlyphs" stroke="#fff" stroke-width="0.25">44 kDa</text>
<text x="1899.36" y="1453.60" font-family='"Liberation Sans", sans-serif' font-weight="bold" font-size="36.50" text-anchor="start" textLength="116.25" lengthAdjust="spacingAndGlyphs" stroke="#fff" stroke-width="0.25">44 kDa</text>
<text x="1902.26" y="1600.40" font-family='"Liberation Sans", sans-serif' font-weight="bold" font-size="36.50" text-anchor="start" textLength="115.54" lengthAdjust="spacingAndGlyphs" stroke="#fff" stroke-width="0.25">42 kDa</text>
</svg>
</body></html>
